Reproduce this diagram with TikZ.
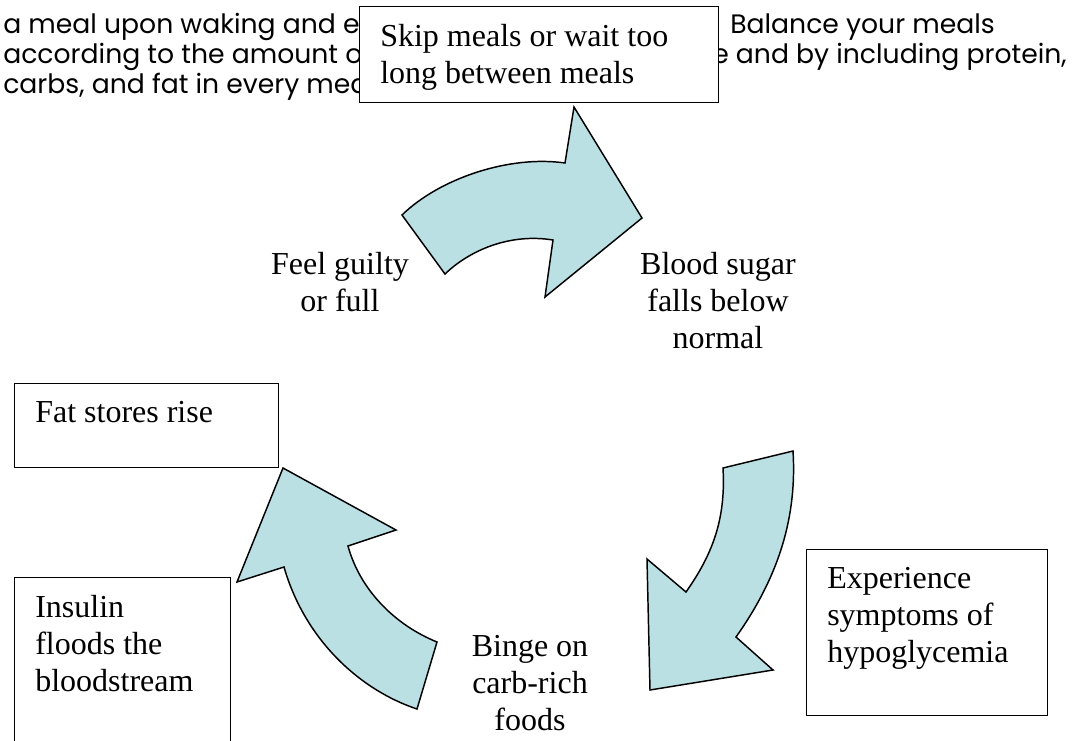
\documentclass[tikz,border=0pt]{standalone}
\usepackage{fontspec}
\setmainfont{Liberation Serif}
\newfontfamily\gothic{Poppins}
\begin{document}
\begin{tikzpicture}[x=0.75pt,y=-0.75pt,
  box/.style={draw=black, fill=white, line width=1.1pt, anchor=north west, inner sep=0pt},
  boxtext/.style={anchor=north west, inner sep=0pt, align=left, font=\fontsize{24}{27.75}\selectfont},
  steptext/.style={anchor=north, inner sep=0pt, align=center, font=\fontsize{24}{27.75}\selectfont},
  para/.style={anchor=base west, inner sep=0pt, font=\gothic\fontsize{20}{22.5}\selectfont},
  cyclearrow/.style={fill=arrow fill, draw=black, line width=1.1pt, line join=miter}]
\definecolor{arrow fill}{RGB}{186,224,228}
\def\topbend{(402,215) .. controls (440,178) and (510,155) .. (565,163) -- (574,107) -- (642,218) -- (545,297) -- (553,240) .. controls (510,233) and (470,250) .. (445,274) -- cycle}
\def\rightbend{(793,451) -- (723,468) .. controls (726,520) and (712,555) .. (686,592) -- (647,559) -- (650,690) -- (773,670) -- (736,637) .. controls (780,575) and (797,515) .. (793,451) -- cycle}
\def\leftbend{(283,468) -- (396,530) -- (348,546) .. controls (360,590) and (395,625) .. (437,642) -- (417,709) .. controls (360,690) and (305,640) .. (284,567) -- (237,582) -- cycle}

    \clip (0,0) rectangle (1072,740);

    % page text behind the first box
    \node[para] (meal)  at (3,33)   {a meal upon waking and e};
    \node[para] (amount) at (3,63)  {according to the amount o};
    \node[para] (carbs) at (3,93)   {carbs, and fat in every mea};
    \node[para] (balance) at (730,33) {Balance your meals};
    \node[para] (protein) at (712,63) {e and by including protein,};

    \node[box, minimum width=269.25pt, minimum height=72pt] (skip) at (359,6) {};
    \node[boxtext] (skiptext) at ([shift={(21,18)}]skip.north west) {Skip meals or wait too\\long between meals};

    \node[box, minimum width=198pt, minimum height=63pt] (fat) at (14,383) {};
    \node[boxtext] (fattext) at ([shift={(21,18)}]fat.north west) {Fat stores rise};

    \node[box, minimum width=162pt, minimum height=150pt] (insulin) at (14,577) {};
    \node[boxtext] (insulintext) at ([shift={(21,18)}]insulin.north west) {Insulin\\floods the\\bloodstream};

    \node[box, minimum width=180.75pt, minimum height=124.5pt] (hypo) at (806,549) {};
    \node[boxtext] (hypotext) at ([shift={(21,18)}]hypo.north west) {Experience\\symptoms of\\hypoglycemia};

    \draw[cyclearrow] \topbend;
    \draw[cyclearrow] \rightbend;
    \draw[cyclearrow] \leftbend;

    \node[steptext] (guilty) at (340,252) {Feel guilty\\or full};
    \node[steptext] (falls) at (718,252) {Blood sugar\\falls below\\normal};
    \node[steptext] (binge) at (530,635) {Binge on\\carb-rich\\foods};

\end{tikzpicture}
\end{document}
